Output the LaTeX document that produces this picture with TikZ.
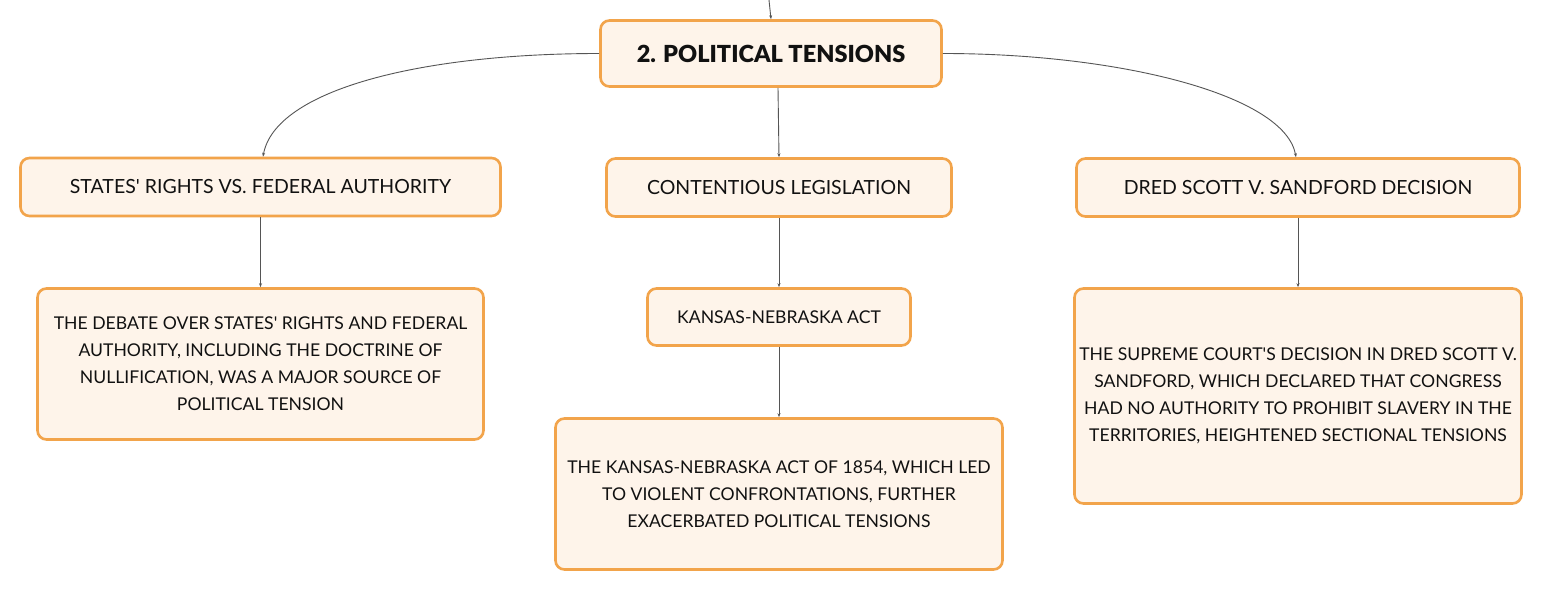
\documentclass[tikz,border=0pt]{standalone}
\usepackage{fontspec}
\setmainfont{Lato}[Ligatures=TeXOff]
\newfontfamily\titlefont{Lato Black}[Ligatures=TeXOff]
\usetikzlibrary{arrows.meta}
\definecolor{boxborder}{HTML}{F2A44B}
\definecolor{boxfill}{HTML}{FEF4EA}
\definecolor{linkcol}{HTML}{555555}
\definecolor{txt}{HTML}{111111}
\begin{document}
\begin{tikzpicture}[x=1pt,y=-1pt,
  box/.style={draw=boxborder, fill=boxfill, line width=2.6pt, rounded corners=9pt,
    align=center, inner sep=0pt, text=txt},
  head/.style={box, font=\fontsize{19.5}{27}\selectfont},
  body/.style={box, font=\fontsize{17.6}{27}\selectfont},
  link/.style={draw=linkcol, line width=0.9pt, -{Stealth[length=4pt,width=3pt]}}]
\useasboundingbox (0,0) rectangle (1543,591);
\fill[white] (0,0) rectangle (1543,591);
\node[box, font=\fontsize{23.5}{30}\titlefont, minimum width=341pt, minimum height=66pt] (top) at (771,53.5) {2. POLITICAL TENSIONS};
\node[head, minimum width=480pt, minimum height=58pt] (states) at (260.5,187) {STATES' RIGHTS VS. FEDERAL AUTHORITY};
\node[head, minimum width=345pt, minimum height=58pt] (cont) at (779,187.5) {CONTENTIOUS LEGISLATION};
\node[head, minimum width=443pt, minimum height=58pt] (dred) at (1298,187.5) {DRED SCOTT V. SANDFORD DECISION};
\node[body, minimum width=446pt, minimum height=151pt] (debate) at (260.5,364) {THE DEBATE OVER STATES' RIGHTS AND FEDERAL\\AUTHORITY, INCLUDING THE DOCTRINE OF\\NULLIFICATION, WAS A MAJOR SOURCE OF\\POLITICAL TENSION};
\node[body, minimum width=263pt, minimum height=57pt] (kna) at (779,317) {KANSAS-NEBRASKA ACT};
\node[body, minimum width=447pt, minimum height=151pt] (knt) at (779,494) {THE KANSAS-NEBRASKA ACT OF 1854, WHICH LED\\TO VIOLENT CONFRONTATIONS, FURTHER\\EXACERBATED POLITICAL TENSIONS};
\node[body, minimum width=447pt, minimum height=215pt] (sup) at (1298,396) {THE SUPREME COURT'S DECISION IN DRED SCOTT V.\\SANDFORD, WHICH DECLARED THAT CONGRESS\\HAD NO AUTHORITY TO PROHIBIT SLAVERY IN THE\\TERRITORIES, HEIGHTENED SECTIONAL TENSIONS};
\coordinate (in) at (769,0);
\draw[link] (in) -- (top.north);
\draw[link] ([xshift=7pt]top.south) -- (cont.north);
\draw[link] (top.west) .. controls (420,53.5) and (275,90) .. ([xshift=2.5pt]states.north);
\draw[link] (top.east) .. controls (1120,53.5) and (1285,95) .. ([xshift=-2pt]dred.north);
\draw[link] (states.south) -- (debate.north);
\draw[link] (cont.south) -- (kna.north);
\draw[link] (kna.south) -- (knt.north);
\draw[link] (dred.south) -- (sup.north);
\end{tikzpicture}
\end{document}
